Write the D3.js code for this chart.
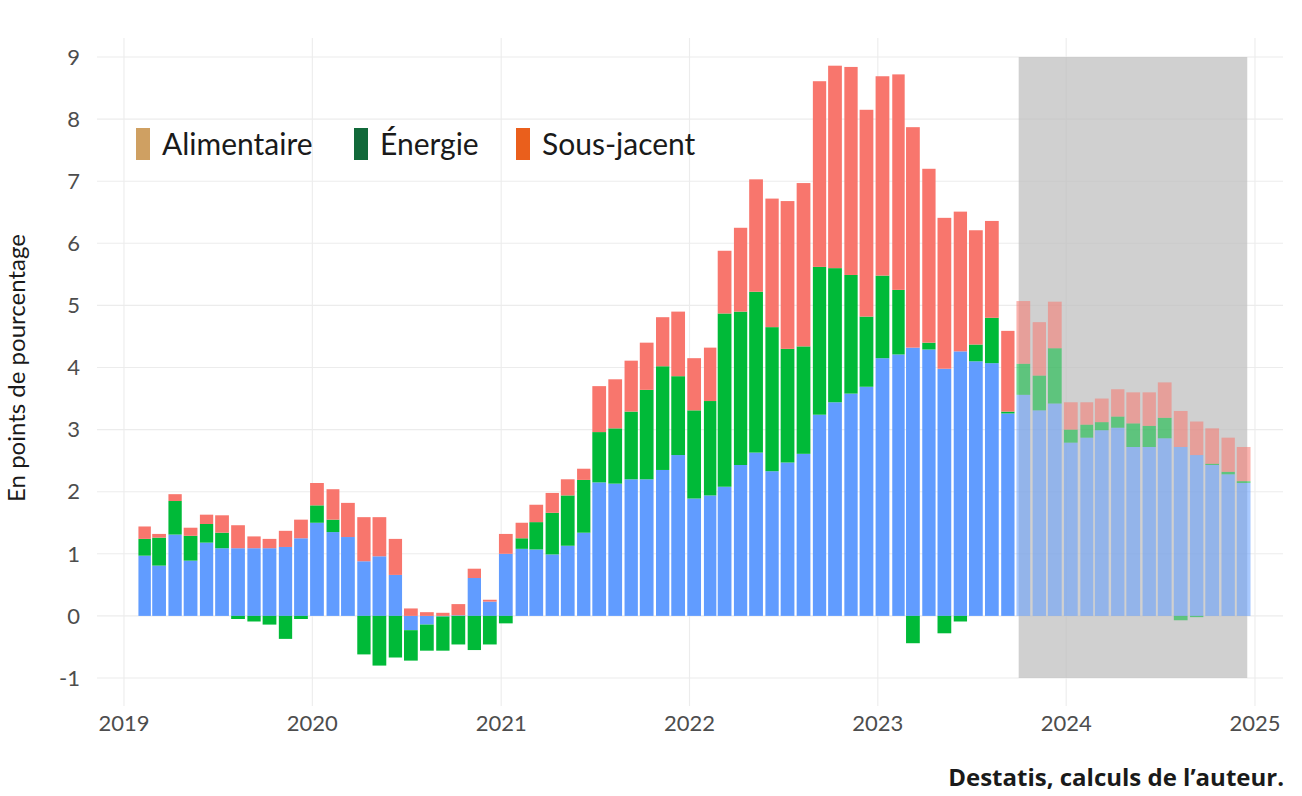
<!DOCTYPE html>
<html>
<head>
<meta charset="utf-8">
<script src="https://cdn.jsdelivr.net/npm/d3@7"></script>
<style>
  body { margin: 0; background: #fff; }
  svg { display: block; }
</style>
</head>
<body>
<div id="chart"></div>
<script>
// months 2019-02 .. 2024-12
var months = d3.timeMonth.range(new Date(2019, 1, 1), new Date(2025, 0, 1));

// contributions, points de pourcentage
var sousJacent = [0.97,0.81,1.31,0.89,1.18,1.09,1.09,1.09,1.09,1.11,1.25,
  1.50,1.35,1.27,0.88,0.96,0.66,-0.23,-0.14,-0.01,0.01,0.61,0.23,
  1.00,1.08,1.07,0.99,1.13,1.34,2.15,2.13,2.20,2.20,2.35,2.59,
  1.89,1.94,2.08,2.43,2.63,2.33,2.47,2.61,3.24,3.44,3.58,3.69,
  4.15,4.21,4.32,4.29,3.98,4.26,4.10,4.07,3.26,3.56,3.31,3.42,
  2.79,2.87,2.99,3.03,2.72,2.72,2.86,2.72,2.59,2.43,2.28,2.14];
var energie = [0.27,0.45,0.54,0.40,0.30,0.25,-0.05,-0.09,-0.14,-0.37,-0.05,
  0.28,0.20,0.00,-0.62,-0.80,-0.67,-0.49,-0.42,-0.55,-0.46,-0.55,-0.46,
  -0.12,0.17,0.44,0.67,0.81,0.85,0.81,0.89,1.09,1.44,1.67,1.27,
  1.42,1.52,2.79,2.47,2.59,2.32,1.83,1.73,2.38,2.16,1.91,1.13,
  1.33,1.04,-0.44,0.11,-0.28,-0.09,0.27,0.73,0.03,0.50,0.56,0.89,
  0.21,0.21,0.13,0.18,0.38,0.34,0.33,-0.07,-0.02,0.02,0.04,0.03];
var alimentaire = [0.20,0.06,0.11,0.13,0.15,0.28,0.37,0.19,0.15,0.26,0.30,
  0.36,0.49,0.55,0.71,0.63,0.58,0.12,0.06,0.05,0.18,0.15,0.03,
  0.32,0.25,0.28,0.32,0.26,0.18,0.74,0.79,0.82,0.76,0.79,1.04,
  0.84,0.86,1.01,1.35,1.81,2.07,2.38,2.63,2.99,3.26,3.35,3.33,
  3.21,3.47,3.55,2.80,2.43,2.25,1.84,1.56,1.30,1.01,0.86,0.75,
  0.44,0.36,0.38,0.44,0.50,0.54,0.57,0.58,0.54,0.57,0.55,0.55];

var forecastStart = new Date(2023, 9, 1);
var forecastEnd = new Date(2024, 11, 17);

var yearTicks = [2019, 2020, 2021, 2022, 2023, 2024, 2025];
var yTicks = [-1, 0, 1, 2, 3, 4, 5, 6, 7, 8, 9];

var legendLabels = ["Alimentaire", "Énergie", "Sous-jacent"];
var legendColors = ["#cfa062", "#11693a", "#ea5f1c"];

var keys = ["sousJacent", "energie", "alimentaire"];
var barColors = { sousJacent: "#619CFF", energie: "#00BA38", alimentaire: "#F8766D" };

var rows = months.map(function(d, i) {
  return { date: d, sousJacent: sousJacent[i], energie: energie[i], alimentaire: alimentaire[i] };
});

var width = 1302, height = 796;
var panelLeft = 97, panelRight = 1283, panelTop = 38, panelBottom = 706;

var svg = d3.select("#chart").append("svg")
  .attr("width", width)
  .attr("height", height)
  .style("font-family", "Lato, 'Open Sans', sans-serif");

var x = d3.scaleTime()
  .domain([new Date(2019, 0, 1), new Date(2025, 0, 1)])
  .range([124, 1255]);
var y = d3.scaleLinear().domain([-1, 9]).range([678, 57]);

// grid
svg.append("g").selectAll("line.h")
  .data(yTicks).enter().append("line")
  .attr("x1", panelLeft).attr("x2", panelRight)
  .attr("y1", function(d) { return y(d); })
  .attr("y2", function(d) { return y(d); })
  .attr("stroke", "#ececec").attr("stroke-width", 1.1);

svg.append("g").selectAll("line.v")
  .data(yearTicks).enter().append("line")
  .attr("x1", function(d) { return x(new Date(d, 0, 1)); })
  .attr("x2", function(d) { return x(new Date(d, 0, 1)); })
  .attr("y1", panelTop).attr("y2", panelBottom)
  .attr("stroke", "#ececec").attr("stroke-width", 1.1);

// forecast zone
svg.append("rect")
  .attr("x", x(forecastStart))
  .attr("width", x(forecastEnd) - x(forecastStart))
  .attr("y", y(9))
  .attr("height", y(-1) - y(9))
  .attr("fill", "#bebebe")
  .attr("opacity", 0.72);

// stacked bars
var series = d3.stack().keys(keys).offset(d3.stackOffsetDiverging)(rows);

function barX(d) {
  var m = d.data.date;
  var w = x(d3.timeMonth.offset(m, 1)) - x(m);
  return x(d3.timeDay.offset(m, 9)) - w * 0.43;
}
function barW(d) {
  var m = d.data.date;
  return (x(d3.timeMonth.offset(m, 1)) - x(m)) * 0.86;
}

svg.append("g").selectAll("g")
  .data(series).enter().append("g")
  .attr("fill", function(s) { return barColors[s.key]; })
  .selectAll("rect")
  .data(function(s) { return s; })
  .enter().append("rect")
  .attr("x", barX)
  .attr("width", barW)
  .attr("y", function(d) { return y(d[1]); })
  .attr("height", function(d) { return Math.abs(y(d[0]) - y(d[1])); })
  .attr("opacity", function(d) { return d.data.date >= forecastStart ? 0.55 : 1; });

// axes labels
svg.append("g").selectAll("text")
  .data(yTicks).enter().append("text")
  .attr("x", 80)
  .attr("y", function(d) { return y(d); })
  .attr("dy", "0.35em")
  .attr("text-anchor", "end")
  .attr("fill", "#4d4d4d")
  .style("font-size", "22px")
  .text(function(d) { return d; });

svg.append("g").selectAll("text")
  .data(yearTicks).enter().append("text")
  .attr("x", function(d) { return x(new Date(d, 0, 1)); })
  .attr("y", 731)
  .attr("text-anchor", "middle")
  .attr("fill", "#4d4d4d")
  .style("font-size", "22px")
  .text(function(d) { return d; });

svg.append("text")
  .attr("transform", "translate(25,368) rotate(-90)")
  .attr("text-anchor", "middle")
  .attr("fill", "#1a1a1a")
  .style("font-size", "24px")
  .text("En points de pourcentage");

svg.append("text")
  .attr("x", 1284)
  .attr("y", 786)
  .attr("text-anchor", "end")
  .attr("fill", "#1a1a1a")
  .style("font-family", "'Open Sans', sans-serif")
  .style("font-weight", "bold")
  .style("font-size", "24px")
  .text("Destatis, calculs de l’auteur.");

// legend
var legX = [136, 354, 516];
var leg = svg.append("g").selectAll("g")
  .data(legendLabels).enter().append("g")
  .attr("transform", function(d, i) { return "translate(" + legX[i] + ",128)"; });
leg.append("rect")
  .attr("width", 14).attr("height", 32)
  .attr("fill", function(d, i) { return legendColors[i]; });
leg.append("text")
  .attr("x", 26).attr("y", 16).attr("dy", "0.36em")
  .attr("fill", "#1a1a1a")
  .style("font-size", "30px")
  .text(function(d) { return d; });
</script>
</body>
</html>
